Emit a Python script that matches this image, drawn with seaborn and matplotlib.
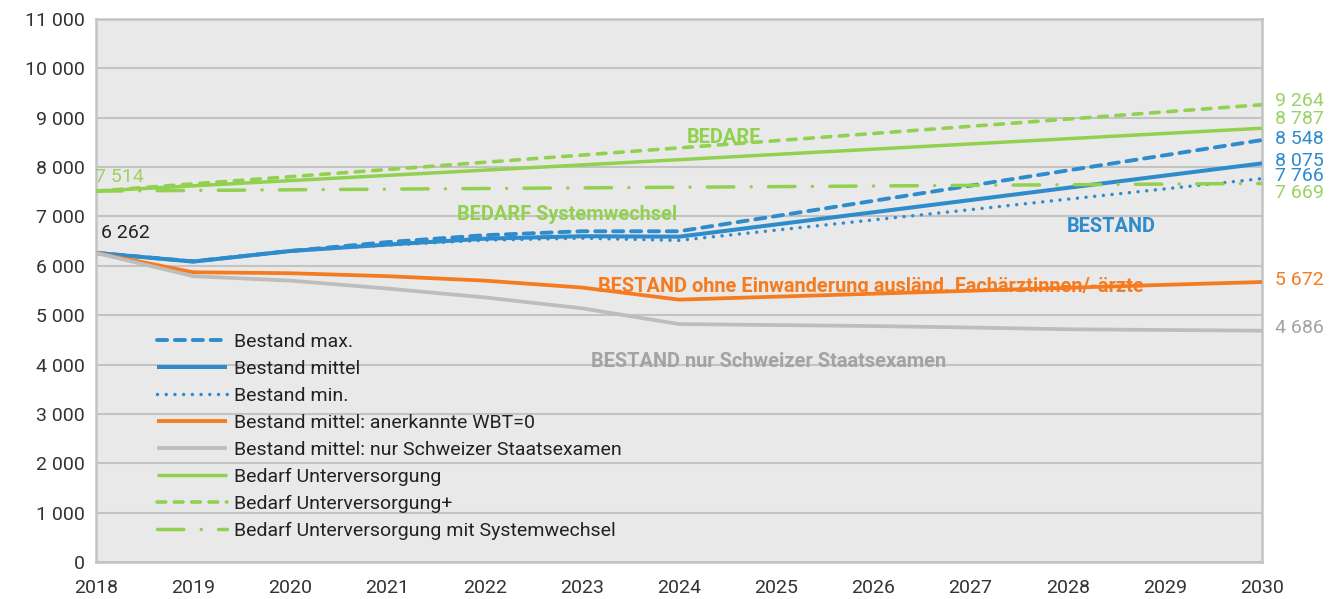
import matplotlib
matplotlib.use("Agg")
import matplotlib.pyplot as plt
from matplotlib.ticker import FuncFormatter
import pandas as pd
import seaborn as sns

jahre = list(range(2018, 2031))

bestand_max = [6262, 6090, 6300, 6480, 6620, 6700, 6700, 7008, 7316, 7624, 7932, 8240, 8548]
bestand_mittel = [6262, 6085, 6300, 6430, 6550, 6600, 6590, 6838, 7085, 7332, 7580, 7828, 8075]
bestand_min = [6262, 6095, 6300, 6420, 6520, 6560, 6515, 6723, 6930, 7138, 7350, 7558, 7766]
bestand_wbt0 = [6262, 5870, 5850, 5790, 5700, 5560, 5315, 5375, 5435, 5495, 5555, 5615, 5672]
bestand_ch = [6262, 5790, 5700, 5540, 5360, 5140, 4820, 4800, 4780, 4750, 4715, 4700, 4686]
bedarf = [7514, 7620, 7726, 7832, 7938, 8044, 8150, 8257, 8363, 8469, 8575, 8681, 8787]
bedarf_plus = [7514, 7660, 7806, 7951, 8097, 8243, 8389, 8535, 8681, 8826, 8972, 9118, 9264]
bedarf_sys = [7514, 7527, 7540, 7553, 7566, 7579, 7592, 7604, 7617, 7630, 7643, 7656, 7669]

namen = ["Bestand max.", "Bestand mittel", "Bestand min.",
         "Bestand mittel: anerkannte WBT=0",
         "Bestand mittel: nur Schweizer Staatsexamen",
         "Bedarf Unterversorgung", "Bedarf Unterversorgung+",
         "Bedarf Unterversorgung mit Systemwechsel"]
werte = [bestand_max, bestand_mittel, bestand_min, bestand_wbt0, bestand_ch,
         bedarf, bedarf_plus, bedarf_sys]

endwerte = [9264, 8787, 8548, 8075, 7766, 7669, 5672, 4686]

blau = "#2e8bcc"
orange = "#f57b20"
grau = "#bdbdbd"
gruen = "#92d050"
gruen_hell = "#9bd262"

stile = [
    (blau, 2.8, (0, (2.6, 2.0))),
    (blau, 2.9, "-"),
    (blau, 2.5, (0, (0.01, 2.5))),
    (orange, 2.7, "-"),
    (grau, 2.7, "-"),
    (gruen, 2.5, "-"),
    (gruen, 2.6, (0, (2.4, 2.4))),
    (gruen, 2.5, (0, (7.6, 5.0, 0.01, 5.0))),
]

df = pd.DataFrame({
    "Jahr": jahre * len(namen),
    "Wert": sum(werte, []),
    "Serie": [n for n in namen for _ in jahre],
})

sns.set_theme(style="white")
plt.rcParams["font.family"] = ["Roboto", "DejaVu Sans"]

fig = plt.figure(figsize=(13.29, 5.99), dpi=100)
ax = fig.add_axes([96 / 1329, 37 / 599, (1262 - 96) / 1329, (562 - 19) / 599])
ax.set_facecolor("#e9e9e9")

for name, (farbe, lw, ls) in zip(namen, stile):
    sns.lineplot(data=df[df["Serie"] == name], x="Jahr", y="Wert", color=farbe,
                 linewidth=lw, linestyle=ls, label=name, errorbar=None,
                 ax=ax, dash_capstyle="round", solid_capstyle="butt", zorder=3)

ax.set_xlim(2018, 2030)
ax.set_ylim(0, 11000)
ax.set_xticks(jahre)
ax.set_yticks(range(0, 11001, 1000))
ax.yaxis.set_major_formatter(FuncFormatter(lambda v, p: f"{int(v):,}".replace(",", " ")))
ax.set_xlabel("")
ax.set_ylabel("")
ax.grid(axis="y", color="#c3c3c3", linewidth=1.5, zorder=0)
ax.set_axisbelow(True)
for s in ax.spines.values():
    s.set_color("#c3c3c3")
    s.set_linewidth(1.8)
ax.tick_params(axis="x", direction="in", length=6, width=1.2, color="#c3c3c3",
               labelsize=14, labelcolor="#333333", pad=12)
ax.tick_params(axis="y", length=0, labelsize=14, labelcolor="#333333", pad=8)

leg = ax.legend(loc="upper left", bbox_to_anchor=(157 / 1329, 1 - 333 / 599),
                bbox_transform=fig.transFigure, frameon=False, fontsize=14,
                handlelength=3.6, handletextpad=0.35, labelspacing=0.46,
                borderpad=0, borderaxespad=0)
for t in leg.get_texts():
    t.set_color("#222222")

# Beschriftungen im Diagramm
txt = dict(fontsize=14.4, fontweight="bold", zorder=2)
ax.text(2024.46, 8594, "BEDARF", color=gruen, ha="center", va="center", **txt)
ax.text(2022.85, 7037, "BEDARF Systemwechsel", color=gruen, ha="center", va="center", **txt)
ax.text(2028.45, 6795, "BESTAND", color=blau, ha="center", va="center", **txt)
ax.text(2025.97, 5590, "BESTAND ohne Einwanderung ausländ. Fachärztinnen/-ärzte",
        color=orange, ha="center", va="center", **txt)
ax.text(2024.92, 4065, "BESTAND nur Schweizer Staatsexamen", color="#a3a3a3",
        ha="center", va="center", **txt)

ax.text(2017.99, 7790, "7 514", color=gruen_hell, fontsize=14, ha="left", va="center")
ax.text(2018.05, 6660, "6 262", color="#222222", fontsize=14, ha="left", va="center")

rechts_farben = [gruen_hell, gruen_hell, blau, blau, blau, gruen_hell, orange, "#a3a3a3"]
rechts_y = [9343, 8979, 8574, 8129, 7810, 7470, 5703, 4732]
for wert, farbe, y in zip(endwerte, rechts_farben, rechts_y):
    ax.text(2030.13, y, f"{wert:,}".replace(",", " "), color=farbe, fontsize=14,
            ha="left", va="center", clip_on=False)

fig.savefig("out.png", dpi=100)
